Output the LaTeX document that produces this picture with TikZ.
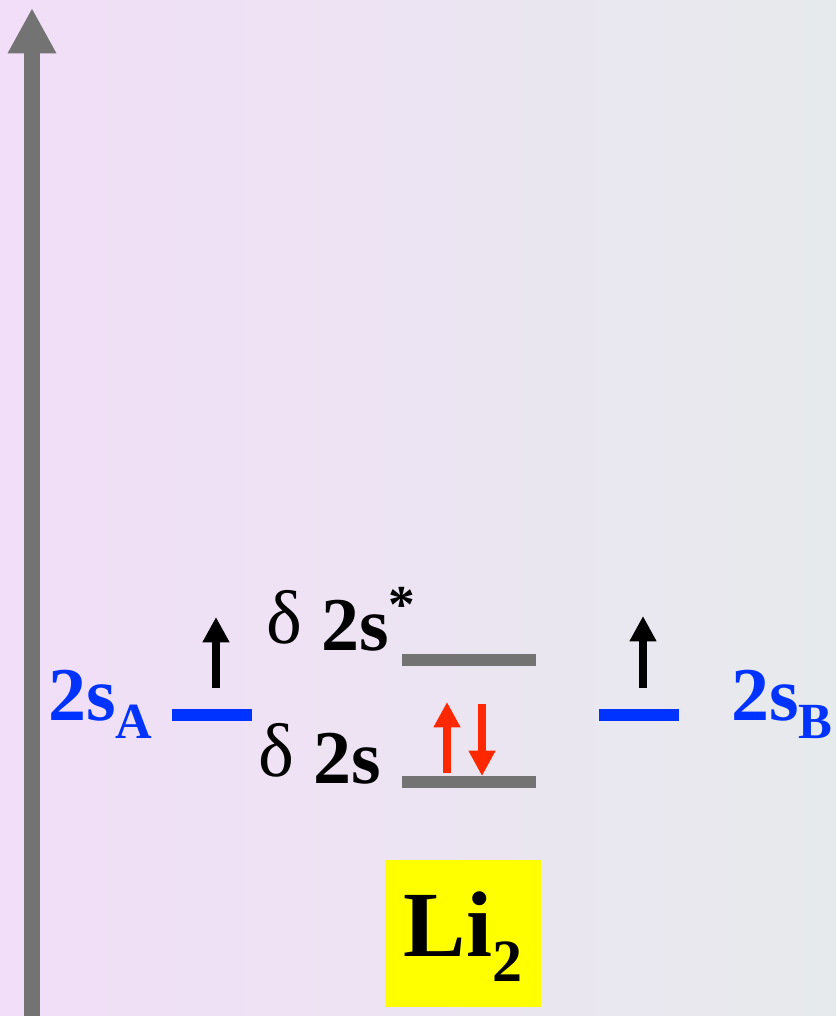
\documentclass[tikz,border=0pt]{standalone}
\usepackage{fontspec}
\setmainfont{Liberation Serif}
\usepackage{tikz}
\usetikzlibrary{arrows.meta, positioning}
\definecolor{bleu}{RGB}{0,51,255}
\definecolor{gris}{RGB}{115,115,115}
\definecolor{rouge}{RGB}{255,40,0}
\definecolor{jaune}{RGB}{255,255,0}
\definecolor{fondg}{RGB}{242,222,248}
\definecolor{fondd}{RGB}{230,234,236}
\newcommand{\indice}[1]{\raisebox{-14pt}{\fontsize{38}{38}\selectfont #1}}
\newcommand{\etoile}{\raisebox{21pt}{\fontsize{40}{40}\selectfont *}}
\newcommand{\delt}{\raisebox{5pt}{δ}}

\begin{document}
\begin{tikzpicture}[x=0.75pt, y=-0.75pt,
		niveau/.style={line width=9pt},
		spin/.style={line width=6pt, -{Triangle[length=19pt, width=19pt]}},
		etiq/.style={inner sep=0, anchor=base west, font=\fontsize{57}{57}\selectfont}]
				
				% Fond
				\shade[left color=fondg, right color=fondd] (0,0) rectangle (836,1016);
				\useasboundingbox (0,0) rectangle (836,1016);
				
				% Axe des énergies
				\draw[gris, line width=12pt, -{Triangle[length=34pt, width=34pt]}] (32,1016) -- (32,8);
				
				% Niveaux atomiques
				\draw[niveau, bleu] (172,714.5) -- (252,714.5);
				\draw[niveau, bleu] (599,714.5) -- (679,714.5);
				
				% Niveaux moléculaires
				\draw[niveau, gris] (402,660) -- (536,660);
				\draw[niveau, gris] (402,782) -- (536,782);
				
				% Électrons
				\draw[spin] (216,688) -- (216,617);
				\draw[spin] (643,688) -- (643,616);
				\draw[spin, rouge] (447,773) -- (447,702);
				\draw[spin, rouge] (482,704) -- (482,776);
				
				% Étiquettes
				\node[etiq, bleu] (sA) at (48,720) {\textbf{2s\indice{A}}};
				\node[etiq, bleu] (sB) at (731,720) {\textbf{2s\indice{B}}};
				\node[etiq] (anti) at (266,650) {\delt\ \textbf{2s\etoile}};
				\node[etiq] (liant) at (258,783) {\delt\ \textbf{2s}};
				
				% Molécule
				\node[fill=jaune, inner sep=0, minimum width=117pt, minimum height=110pt,
					text height=50pt, text depth=16.2pt, font=\fontsize{70}{70}\selectfont]
					(mol) at (463,933.5) {\textbf{Li\raisebox{-19pt}{\fontsize{45}{45}\selectfont 2}}};
				
			\end{tikzpicture}
\end{document}
